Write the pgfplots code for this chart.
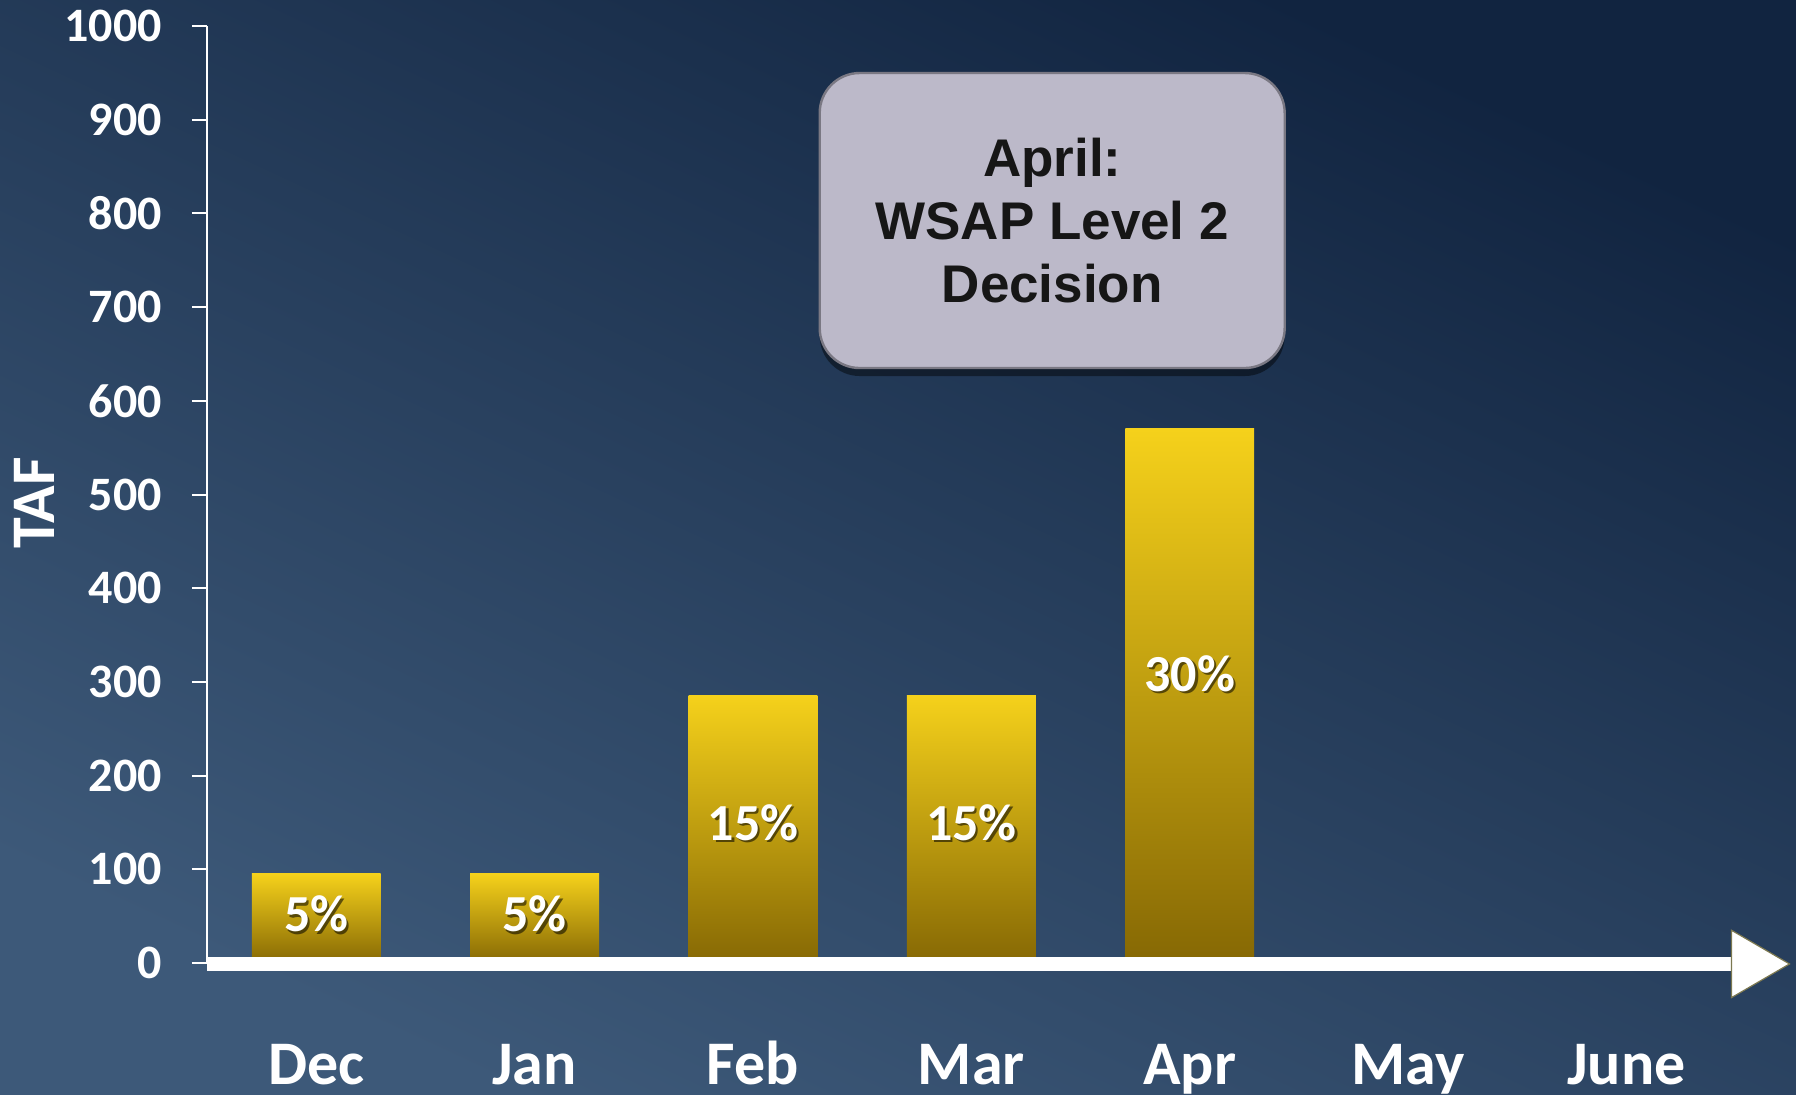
\documentclass[border=0pt]{standalone}
\usepackage{fontspec}
\setmainfont{Carlito}
\newfontfamily\arialfont{Liberation Sans}
\usepackage{pgfplots}
\pgfplotsset{compat=1.18}
\usetikzlibrary{shadows,fadings}

\definecolor{bgA}{HTML}{3D5979}
\definecolor{bgB}{HTML}{112440}
\definecolor{goldT}{HTML}{F5D11B}
\definecolor{goldB}{HTML}{866804}
\definecolor{boxfill}{HTML}{BCB9C9}
\definecolor{arrowedge}{HTML}{7C7850}

\pgfplotsset{goldbar/.style={ybar, bar width=0.59, bar shift=0pt, draw=none, top color=goldT, bottom color=goldB}}

\begin{document}
\begin{tikzpicture}
\begin{scope}[x=0.25pt,y=0.25pt]
\shade[top color=bgB, bottom color=bgA, shading angle=-25] (0,0) rectangle (1796,1094);
\end{scope}

\begin{axis}[
  scale only axis, width=381.1pt, height=234.25pt,
  at={(51.75pt,32.75pt)}, anchor=south west,
  xmin=-0.5, xmax=6.48, ymin=0, ymax=1000,
  clip=false,
  axis y line*=left, axis x line*=bottom,
  x axis line style={draw=none},
  y axis line style={white, line width=0.5pt, -},
  tick align=outside, major tick length=3.75pt,
  ytick={0,100,...,1000},
  ytick style={white, line width=0.5pt},
  xtick={0,1,2,3,4,5,6},
  xticklabels={Dec,Jan,Feb,Mar,Apr,May,June},
  xtick style={draw=none},
  /pgf/number format/assume math mode=true,
  /pgf/number format/set thousands separator={},
  yticklabel style={font=\bfseries\fontsize{12}{13}\selectfont, text=white, xshift=-4pt},
  xticklabel style={font=\bfseries\fontsize{15.5}{16}\selectfont, text=white, anchor=base, yshift=-26.5pt},
  ylabel={TAF},
  ylabel style={at={(axis description cs:-0.113,0.491)}, anchor=center, font=\bfseries\fontsize{15.5}{16}\selectfont, text=white},
]
\addplot[goldbar] coordinates {(0,95)};
\addplot[goldbar] coordinates {(1,95)};
\addplot[goldbar] coordinates {(2,285)};
\addplot[goldbar] coordinates {(3,285)};
\addplot[goldbar] coordinates {(4,570)};

% label shadows
\addplot[draw=none, mark=none, nodes near coords, point meta=explicit symbolic,
  nodes near coords style={anchor=center, text=black, opacity=0.55, xshift=0.6pt, yshift=-0.6pt,
  font=\bfseries\fontsize{13}{14}\selectfont}]
  coordinates {(0,52) [5\%] (1,52) [5\%] (2,150) [15\%] (3,150) [15\%] (4,309) [30\%]};
\addplot[draw=none, mark=none, nodes near coords, point meta=explicit symbolic,
  nodes near coords style={anchor=center, text=white,
  font=\bfseries\fontsize{13}{14}\selectfont}]
  coordinates {(0,52) [5\%] (1,52) [5\%] (2,150) [15\%] (3,150) [15\%] (4,309) [30\%]};

\draw[white, line width=3.5pt] (axis cs:-0.5,-1) -- (axis cs:6.48,-1);
\filldraw[fill=white, draw=arrowedge, line width=0.3pt]
  (axis cs:6.48,35) -- (axis cs:6.746,-1) -- (axis cs:6.48,-37) -- cycle;

\node[fill=boxfill, draw=black!35!boxfill, line width=0.6pt, rounded corners=10pt,
  minimum width=116.25pt, minimum height=73.75pt, align=center,
  drop shadow={shadow xshift=0pt, shadow yshift=-2pt, opacity=0.45, fill=black},
  font=\arialfont\bfseries\fontsize{13.25}{15.75}\selectfont, text={rgb,255:red,22;green,22;blue,22}]
  at (axis cs:3.37,792.4) {April:\\WSAP Level 2\\Decision};
\end{axis}
\pgfresetboundingbox
\useasboundingbox (0,0) rectangle (449pt,273.5pt);
\end{tikzpicture}
\end{document}
